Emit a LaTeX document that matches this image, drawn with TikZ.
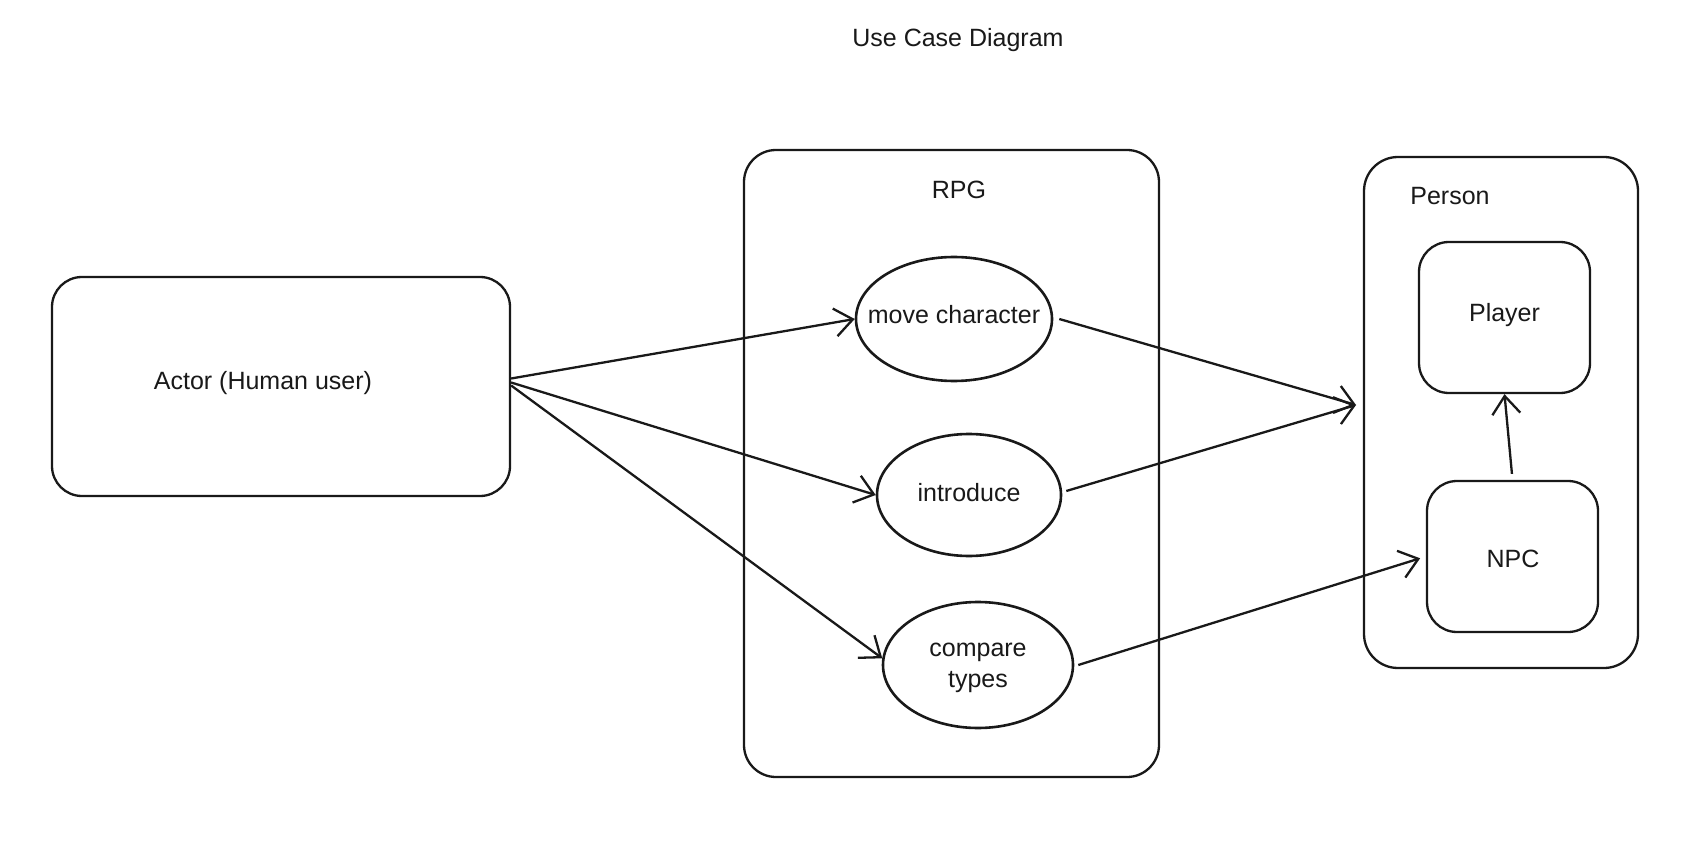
\documentclass[tikz,border=0pt]{standalone}
\usepackage{fontspec}
\setmainfont{Liberation Sans}
\usetikzlibrary{arrows.meta,shapes.geometric}
\tikzset{
  box/.style={draw=black!90, line width=2.3pt, rounded corners=30pt, inner sep=0pt},
  usecase/.style={draw=black!90, line width=2.6pt, ellipse, inner sep=0pt},
  lbl/.style={font=\fontsize{25}{31}\selectfont, text=black!90},
  conn/.style={draw=black!90, line width=2.3pt, -{Straight Barb[length=18pt,width=28pt,line width=2.3pt]}},
}
\begin{document}
\begin{tikzpicture}[x=1pt,y=-1pt]
\useasboundingbox[fill=white] (0,0) rectangle (1701,842);
\node[lbl] (title) at (958,40) {Use Case Diagram};
% actor
\node[box, minimum width=458pt, minimum height=219pt] (actor) at (281,386.5) {};
\node[lbl] (actorlbl) at (263,383) {Actor (Human user)};
% RPG system
\node[box, rounded corners=32pt, minimum width=415pt, minimum height=627pt] (rpg) at (951.5,463.5) {};
\node[lbl] (rpglbl) at (959,190) {RPG};
\node[usecase, minimum width=196pt, minimum height=124pt] (mc) at (954,319) {};
\node[lbl] (mclbl) at (954,315) {move character};
\node[usecase, minimum width=184pt, minimum height=122pt] (intro) at (969,495) {};
\node[lbl] (introlbl) at (969,493) {introduce};
\node[usecase, minimum width=190pt, minimum height=126pt] (ct) at (978,665) {};
\node[lbl, align=center] (ctlbl) at (978,668) {compare\\types};
% Person
\node[box, rounded corners=34pt, minimum width=274pt, minimum height=511pt] (person) at (1501,412.5) {};
\node[lbl] (personlbl) at (1450,196) {Person};
\node[box, minimum width=171pt, minimum height=151pt] (player) at (1504.5,317.5) {};
\node[lbl] (playerlbl) at (1504.5,315) {Player};
\node[box, minimum width=171pt, minimum height=151pt] (npc) at (1512.5,556.5) {};
\node[lbl] (npclbl) at (1513,559) {NPC};
\coordinate (pin) at (1356,405);
% connectors
\draw[conn] ([yshift=8pt]actor.east) -- (mc.west);
\draw[conn] ([yshift=4pt]actor.east) -- (intro.west);
\draw[conn] ([yshift=1pt]actor.east) -- (ct.176);
\draw[conn] ([xshift=6pt]mc.east) -- (pin);
\draw[conn] ([xshift=4pt,yshift=4pt]intro.east) -- (pin);
\draw[conn, shorten >=6pt] ([xshift=4pt]ct.east) -- (npc.west);
\draw[conn, shorten <=6pt] (npc.north) -- (player.south);
\end{tikzpicture}
\end{document}
